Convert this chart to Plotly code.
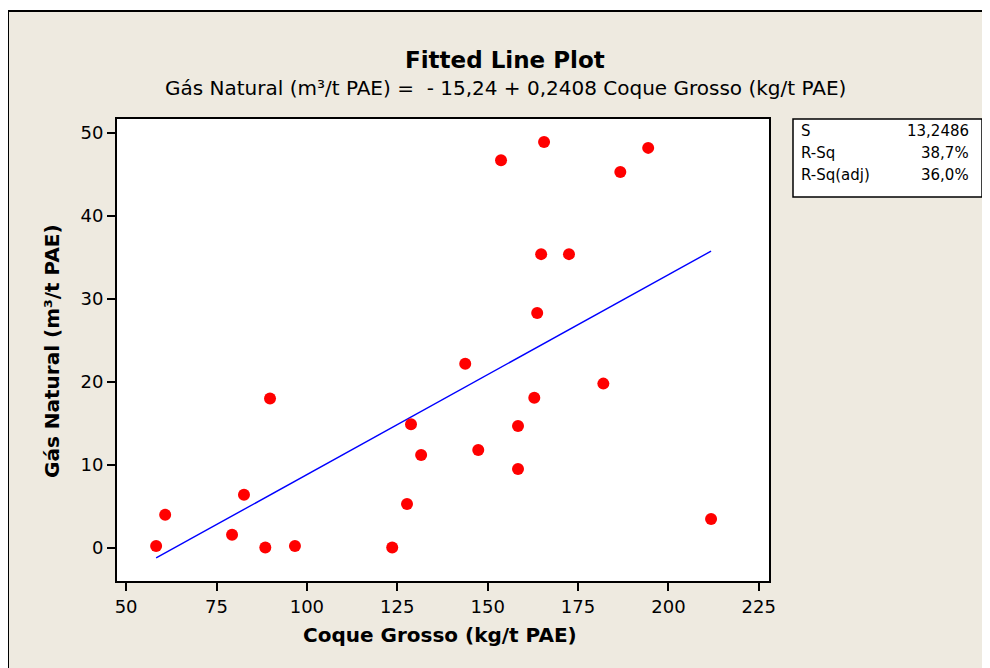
import plotly.graph_objects as go

# Data
coque_grosso = [58.3, 60.8, 79.3, 82.6, 88.5, 89.8, 96.7, 123.6, 127.7, 128.8,
                131.6, 143.8, 147.4, 153.7, 158.4, 158.4, 162.9, 163.7, 164.8,
                165.6, 172.5, 182.0, 186.7, 194.4, 211.8]
gas_natural = [0.25, 4.0, 1.6, 6.4, 0.05, 18.0, 0.25, 0.05, 5.3, 14.9,
               11.2, 22.2, 11.8, 46.7, 14.7, 9.5, 18.1, 28.3, 35.4,
               48.9, 35.4, 19.8, 45.3, 48.2, 3.5]
intercept = -15.24
slope = 0.2408
stats_labels = ["S", "R-Sq", "R-Sq(adj)"]
stats_values = ["13,2486", "38,7%", "36,0%"]
x_ticks = [50, 75, 100, 125, 150, 175, 200, 225]
y_ticks = [0, 10, 20, 30, 40, 50]

FONT = "DejaVu Sans"
W, H = 990, 668
OFF = 8  # page body margin
L, R, T, B = 116, 770, 118, 582  # plot area in screen pixels


def px(x):
    return (x - L) / (R - L)


def py(y):
    return (B - y) / (B - T)


line_x = sorted(coque_grosso)
line_y = [intercept + slope * v for v in line_x]

fig = go.Figure()
fig.add_trace(go.Scatter(x=line_x, y=line_y, mode="lines",
                         line=dict(color="#0000FF", width=1.4),
                         hoverinfo="skip", showlegend=False))
fig.add_trace(go.Scatter(x=coque_grosso, y=gas_natural, mode="markers",
                         marker=dict(color="#FF0000", size=12),
                         showlegend=False))

shapes = [
    dict(type="rect", xref="paper", yref="paper", layer="below",
         x0=px(8), x1=px(1010), y0=py(11), y1=py(690),
         fillcolor="#EEEAE0", line=dict(color="black", width=2)),
    dict(type="rect", xref="paper", yref="paper", layer="below",
         x0=0, x1=1, y0=0, y1=1,
         fillcolor="white", line=dict(color="black", width=2)),
    dict(type="rect", xref="paper", yref="paper",
         x0=px(793), x1=px(982), y0=py(119), y1=py(197),
         fillcolor="white", line=dict(color="black", width=1.5)),
]

annotations = [
    dict(text="<b>Fitted Line Plot</b>", x=px(505), y=py(60), xref="paper", yref="paper",
         showarrow=False, font=dict(family=FONT, size=23, color="black"),
         xanchor="center", yanchor="middle"),
    dict(text="Gás Natural (m³/t PAE) =  - 15,24 + 0,2408 Coque Grosso (kg/t PAE)",
         x=px(505), y=py(88), xref="paper", yref="paper", showarrow=False,
         font=dict(family=FONT, size=20, color="black"), xanchor="center", yanchor="middle"),
    dict(text="<b>Coque Grosso (kg/t PAE)</b>", x=px(440), y=py(635), xref="paper", yref="paper",
         showarrow=False, font=dict(family=FONT, size=20, color="black"),
         xanchor="center", yanchor="middle"),
    dict(text="<b>Gás Natural (m³/t PAE)</b>", x=px(52), y=py(351), xref="paper", yref="paper",
         showarrow=False, textangle=-90, font=dict(family=FONT, size=20, color="black"),
         xanchor="center", yanchor="middle"),
]
row_y = [131, 153, 175]
for lab, val, ry in zip(stats_labels, stats_values, row_y):
    annotations.append(dict(text=lab, x=px(799), y=py(ry), xref="paper", yref="paper",
                            showarrow=False, xanchor="left", yanchor="middle",
                            font=dict(family=FONT, size=15, color="black")))
    annotations.append(dict(text=val, x=px(971), y=py(ry), xref="paper", yref="paper",
                            showarrow=False, xanchor="right", yanchor="middle",
                            font=dict(family=FONT, size=15, color="black")))

fig.update_layout(
    width=W, height=H,
    margin=dict(l=L - OFF, r=W - (R - OFF), t=T - OFF, b=H - (B - OFF)),
    paper_bgcolor="white", plot_bgcolor="rgba(0,0,0,0)",
    shapes=shapes, annotations=annotations,
    font=dict(family=FONT, color="black"),
    xaxis=dict(range=[47.2, 228.1], tickvals=x_ticks, ticks="outside", ticklen=8,
               tickwidth=1.5, tickcolor="black", showgrid=False, zeroline=False,
               showline=False, tickfont=dict(family=FONT, size=18)),
    yaxis=dict(range=[-4.1, 51.8], tickvals=y_ticks, ticks="outside", ticklen=8,
               tickwidth=1.5, tickcolor="black", showgrid=False, zeroline=False,
               showline=False, tickfont=dict(family=FONT, size=18)),
)

fig.write_html("out.html")
